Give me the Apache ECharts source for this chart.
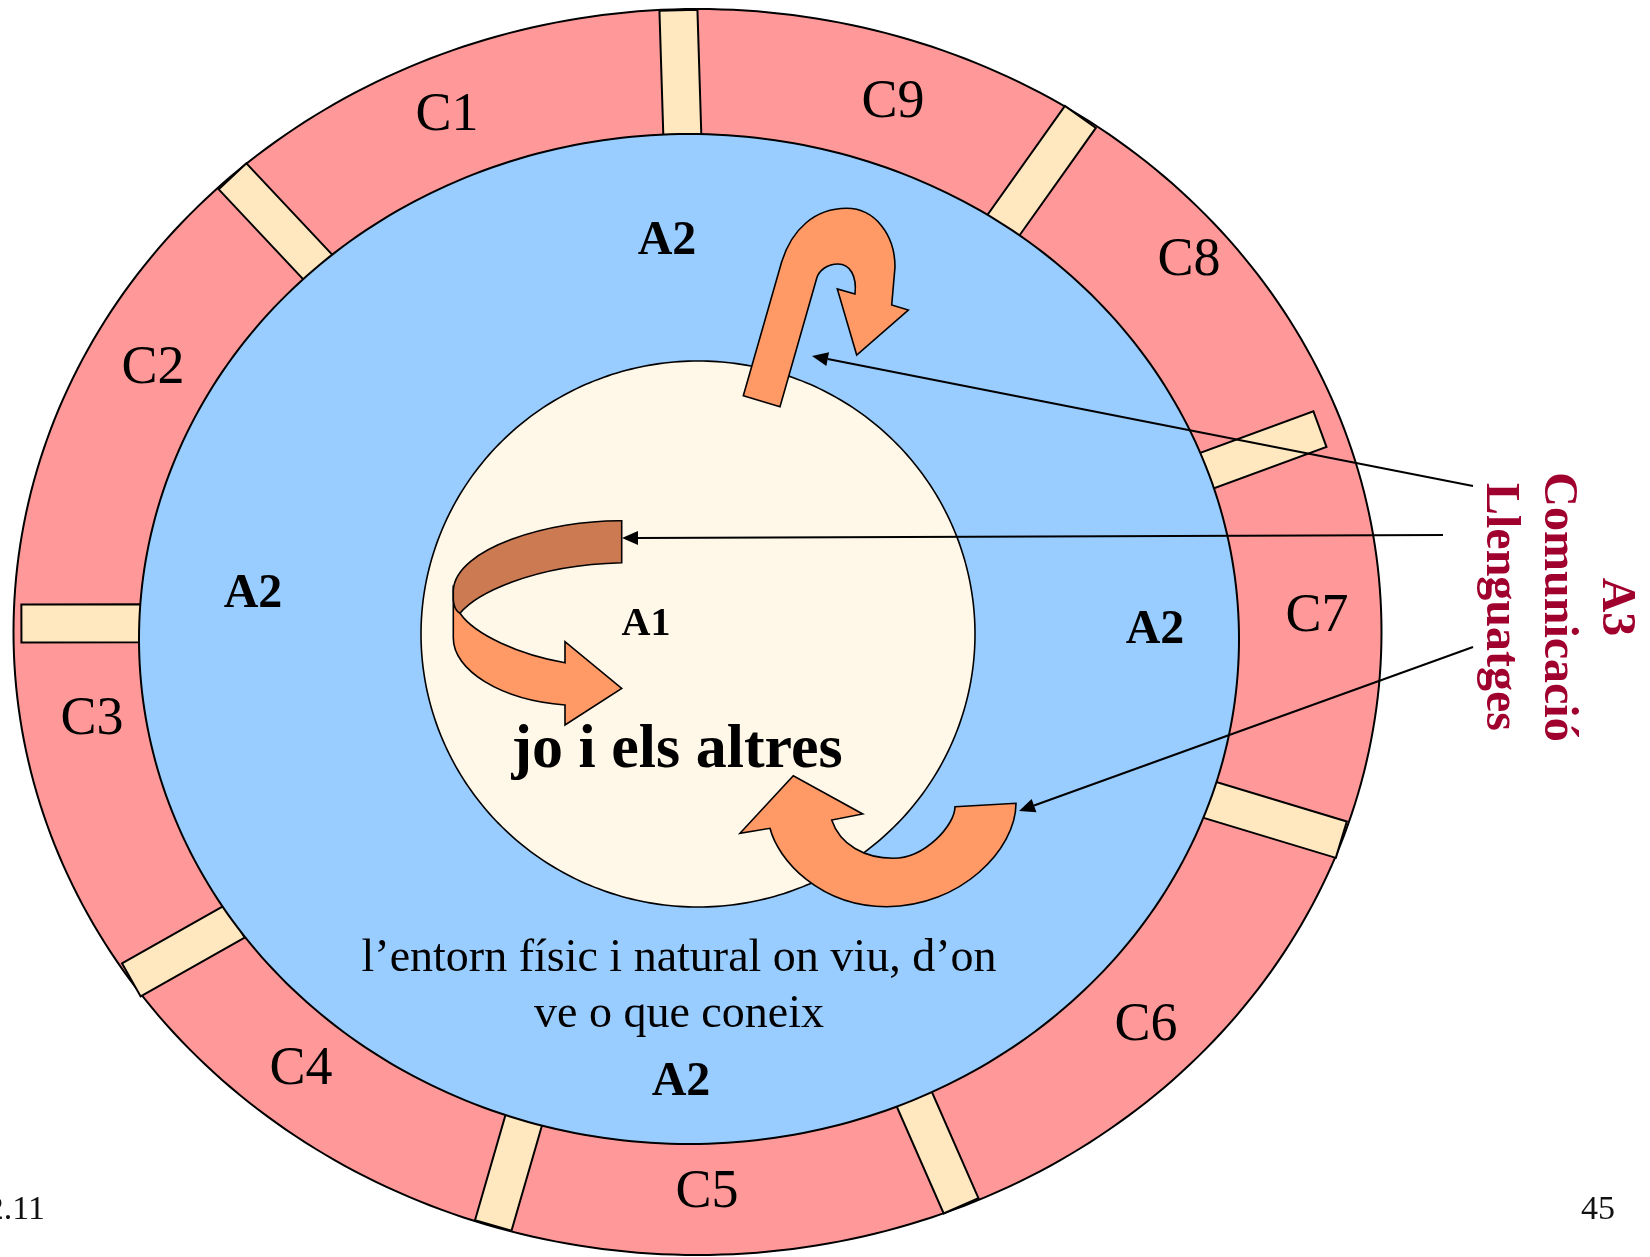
<!DOCTYPE html>
<html>
<head>
<meta charset="utf-8">
<script src="https://cdn.jsdelivr.net/npm/echarts@6/dist/echarts.min.js"></script>
<style>
html,body{margin:0;padding:0;background:#ffffff;}
#chart{width:1650px;height:1257px;}
</style>
</head>
<body>
<div id="chart"></div>
<script>
// ---------------- data (diagram units = axis units) ----------------
const ringLabels = ['C1','C2','C3','C4','C5','C6','C7','C8','C9'];
const ringLabelX = [447, 153, 92, 301, 707, 1146, 1317, 1189, 893];
const ringLabelY = [116, 369, 720, 1070, 1193, 1026, 617, 261, 103];

// angle (deg) of each divider where it meets the outer and the middle ellipse,
// and how far out (share of the outer ellipse radius) it reaches
const dividerOuterAngle = [-91.6, -132.9, -179.2, 146.0, 107.4, 67.3, 19.5, -19.7, -55.9];
const dividerInnerAngle = [-90.7, -132.5, -178.2, 145.9, 107.5, 65.8, 18.6, -19.5, -55.1];
const dividerReach = [1.0, 1.0, 0.99, 1.0, 1.0, 1.0, 1.0, 0.968, 1.0];

const zoneLabels = ['A2', 'A2', 'A2', 'A2', 'A1'];
const zoneX = [667, 253, 1155, 681, 646];
const zoneY = [242, 595, 631, 1083, 625];

const centreTitle = 'jo i els altres';
const environmentText = ['l\u2019entorn físic i natural on viu, d\u2019on', 've o que coneix'];
const sideTitle = ['A3', 'Comunicació', 'Llenguatges'];
const pageNumbers = ['2.11', '45'];

const pointerFromX = [1473, 1443, 1473];
const pointerFromY = [486, 535, 647];
const pointerToX = [812, 622, 1019];
const pointerToY = [356, 538, 811];

// ---------------- geometry & style (not data) ----------------
const GEO = {
  outer:  {cx: 697.5, cy: 632, rx: 684, ry: 623},
  middle: {cx: 689,   cy: 639, rx: 550, ry: 505},
  inner:  {cx: 698,   cy: 634, rx: 277, ry: 273},
  dividerWidth: 38
};
const COL = {
  ring: '#FF9999', middle: '#99CCFF', inner: '#FFF7E8', divider: '#FFE7C0',
  orange: '#FF9966', brown: '#CC7A52', dark: '#A0002E', ink: '#000000'
};
const SERIF = '"Liberation Serif", "DejaVu Serif", serif';

// decorative arrow outlines, in diagram units
const hookArrow = [
  ['M',743.3,395.7],['L',781.7,261.7],
  ['C',792,229,815,208.3,846.7,208.3],
  ['C',875,208.3,895,235,895,267],
  ['L',891.7,305],['L',908.3,310],['L',856.7,355],['L',837.3,289],['L',855,294],
  ['C',857,276,850,264,838,264],
  ['C',828,264,819,270,816.7,278.3],
  ['L',780,406.7],['Z']
];
const swirlFront = [
  ['M',453.3,590],['L',453.3,638],
  ['C',453.3,670,500,700,565,705],
  ['L',565,725],['L',621.7,688.3],['L',565,641.7],['L',565,662.7],
  ['C',520,655,475,635,460,613.3],['Z']
];
const swirlBack = [
  ['M',621.7,520.7],
  ['C',550,520,456,548,453.3,590],
  ['L',453.3,600],
  ['Q',454,610,460,613.3],
  ['C',475,595,530,565,621.7,562.7],['Z']
];
const uArrow = [
  ['M',955,806.7],['L',1016,803.3],
  ['C',1016,850,960,906.7,886.7,906.7],
  ['C',820,906.7,778,860,770,828.3],
  ['L',740,833.3],['L',793.3,775.7],['L',862.7,814],['L',831.7,820],
  ['C',840,845,865,858.3,893.3,858.3],
  ['C',925,858.3,955,825,955,806.7],['Z']
];

// ---------------- helpers ----------------
function ellipsePoints(api, e) {
  const pts = [];
  const n = 360;
  for (let i = 0; i < n; i++) {
    const t = i / n * Math.PI * 2;
    pts.push(api.coord([e.cx + e.rx * Math.cos(t), e.cy + e.ry * Math.sin(t)]));
  }
  return pts;
}
function onEllipse(e, deg, f) {
  const t = deg * Math.PI / 180;
  const k = f == null ? 1 : f;
  return [e.cx + k * e.rx * Math.cos(t), e.cy + k * e.ry * Math.sin(t)];
}
function pathData(api, cmds) {
  let s = '';
  cmds.forEach(c => {
    s += c[0];
    for (let k = 1; k < c.length; k += 2) {
      const p = api.coord([c[k], c[k + 1]]);
      s += ' ' + p[0].toFixed(2) + ' ' + p[1].toFixed(2);
    }
    s += ' ';
  });
  return s;
}
function textEl(api, x, y, text, font, fill, extra) {
  const p = api.coord([x, y]);
  const el = {
    type: 'text', x: p[0], y: p[1],
    style: Object.assign({text: text, font: font, fill: fill, align: 'center', verticalAlign: 'middle'}, extra && extra.style || {})
  };
  if (extra && extra.rotation != null) el.rotation = extra.rotation;
  return el;
}

const chart = echarts.init(document.getElementById('chart'), null, {renderer: 'canvas'});

const option = {
  animation: false,
  backgroundColor: '#ffffff',
  grid: {left: 0, right: 0, top: 0, bottom: 0},
  xAxis: {type: 'value', min: 0, max: 1650, show: false},
  yAxis: {type: 'value', min: 0, max: 1257, inverse: true, show: false},
  series: [
    { // outer ring
      type: 'custom', coordinateSystem: 'cartesian2d', silent: true, z: 1,
      data: [[0, 0]],
      renderItem: function (params, api) {
        return {type: 'polygon', shape: {points: ellipsePoints(api, GEO.outer)},
                style: {fill: COL.ring, stroke: COL.ink, lineWidth: 2}};
      }
    },
    { // dividers between C sections
      type: 'custom', coordinateSystem: 'cartesian2d', silent: true, z: 2,
      data: dividerOuterAngle.map((a, i) => [a, dividerInnerAngle[i]]),
      renderItem: function (params, api) {
        const i = params.dataIndex;
        const po = api.coord(onEllipse(GEO.outer, dividerOuterAngle[i], dividerReach[i]));
        const pi = api.coord(onEllipse(GEO.middle, dividerInnerAngle[i]));
        let dx = po[0] - pi[0], dy = po[1] - pi[1];
        const L = Math.hypot(dx, dy); dx /= L; dy /= L;
        const w = api.size([GEO.dividerWidth, 0])[0] / 2;
        const a = [po[0] - dx * 1, po[1] - dy * 1];
        const b = [pi[0] - dx * 2, pi[1] - dy * 2];
        const nx = -dy * w, ny = dx * w;
        return {type: 'polygon',
                shape: {points: [[a[0] + nx, a[1] + ny], [a[0] - nx, a[1] - ny], [b[0] - nx, b[1] - ny], [b[0] + nx, b[1] + ny]]},
                style: {fill: COL.divider, stroke: COL.ink, lineWidth: 2}};
      }
    },
    { // middle (blue) and inner (cream) areas
      type: 'custom', coordinateSystem: 'cartesian2d', silent: true, z: 3,
      data: [[0, 0]],
      renderItem: function (params, api) {
        return {type: 'group', children: [
          {type: 'polygon', shape: {points: ellipsePoints(api, GEO.middle)},
           style: {fill: COL.middle, stroke: COL.ink, lineWidth: 2}},
          {type: 'polygon', shape: {points: ellipsePoints(api, GEO.inner)},
           style: {fill: COL.inner, stroke: COL.ink, lineWidth: 1.6}}
        ]};
      }
    },
    { // curved arrows
      type: 'custom', coordinateSystem: 'cartesian2d', silent: true, z: 4,
      data: [[0, 0]],
      renderItem: function (params, api) {
        const st = (fill) => ({fill: fill, stroke: COL.ink, lineWidth: 1.6, lineJoin: 'miter'});
        return {type: 'group', children: [
          {type: 'path', shape: {pathData: pathData(api, hookArrow)}, style: st(COL.orange)},
          {type: 'path', shape: {pathData: pathData(api, swirlFront)}, style: st(COL.orange)},
          {type: 'path', shape: {pathData: pathData(api, swirlBack)}, style: st(COL.brown)},
          {type: 'path', shape: {pathData: pathData(api, uArrow)}, style: st(COL.orange)}
        ]};
      }
    },
    { // black pointer lines
      type: 'custom', coordinateSystem: 'cartesian2d', silent: true, z: 5,
      data: pointerFromX.map((x, i) => [x, pointerFromY[i]]),
      renderItem: function (params, api) {
        const i = params.dataIndex;
        const a = api.coord([pointerFromX[i], pointerFromY[i]]);
        const b = api.coord([pointerToX[i], pointerToY[i]]);
        let dx = b[0] - a[0], dy = b[1] - a[1];
        const L = Math.hypot(dx, dy); dx /= L; dy /= L;
        const len = 16, hw = 7;
        const base = [b[0] - dx * len, b[1] - dy * len];
        return {type: 'group', children: [
          {type: 'line', shape: {x1: a[0], y1: a[1], x2: base[0], y2: base[1]},
           style: {stroke: COL.ink, lineWidth: 2}},
          {type: 'polygon', shape: {points: [b, [base[0] - dy * hw, base[1] + dx * hw], [base[0] + dy * hw, base[1] - dx * hw]]},
           style: {fill: COL.ink}}
        ]};
      }
    },
    { // C labels
      type: 'custom', coordinateSystem: 'cartesian2d', silent: true, z: 6,
      data: ringLabelX.map((x, i) => [x, ringLabelY[i]]),
      renderItem: function (params, api) {
        const i = params.dataIndex;
        return textEl(api, ringLabelX[i], ringLabelY[i], ringLabels[i], '54px ' + SERIF, COL.ink);
      }
    },
    { // A labels
      type: 'custom', coordinateSystem: 'cartesian2d', silent: true, z: 6,
      data: zoneX.map((x, i) => [x, zoneY[i]]),
      renderItem: function (params, api) {
        const i = params.dataIndex;
        const size = zoneLabels[i] === 'A1' ? 40 : 48;
        return textEl(api, zoneX[i], zoneY[i], zoneLabels[i], 'bold ' + size + 'px ' + SERIF, COL.ink);
      }
    },
    { // other texts
      type: 'custom', coordinateSystem: 'cartesian2d', silent: true, z: 6,
      data: [[0, 0]],
      renderItem: function (params, api) {
        return {type: 'group', children: [
          textEl(api, 677, 751, centreTitle, 'bold 62px ' + SERIF, COL.ink),
          textEl(api, 679, 987, environmentText.join('\n'), '46px ' + SERIF, COL.ink, {style: {lineHeight: 56}}),
          textEl(api, 1557, 607, sideTitle.join('\n'), 'bold 48px ' + SERIF, COL.dark,
                 {rotation: -Math.PI / 2, style: {lineHeight: 58}}),
          textEl(api, 45, 1210, pageNumbers[0], '34px ' + SERIF, '#111', {style: {align: 'right'}}),
          textEl(api, 1598, 1210, pageNumbers[1], '34px ' + SERIF, '#111')
        ]};
      }
    }
  ]
};
chart.setOption(option);
</script>
</body>
</html>
